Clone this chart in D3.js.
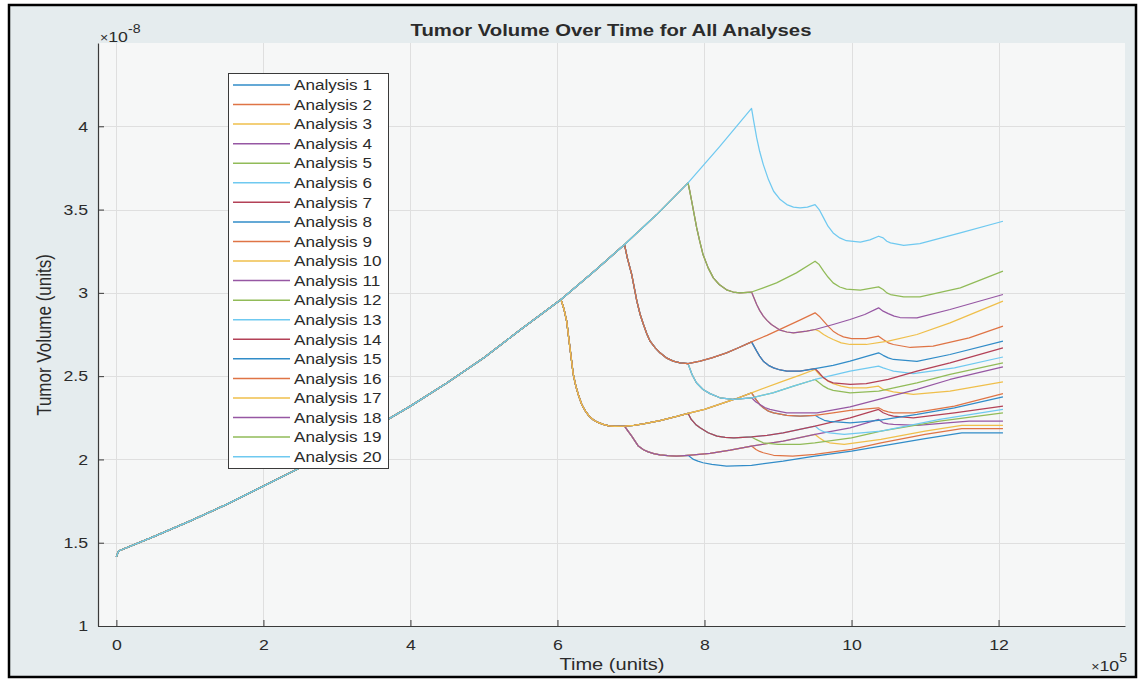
<!DOCTYPE html>
<html>
<head>
<meta charset="utf-8">
<script src="https://cdn.jsdelivr.net/npm/d3@7"></script>
<style>
  html, body { margin: 0; padding: 0; background: #ffffff; }
  svg { display: block; }
  text { font-family: "Liberation Sans", Arial, Helvetica, sans-serif; fill: #2b2b2b; }
</style>
</head>
<body>
<svg id="chart" width="1143" height="682"></svg>
<script>
// Time is in units of 1e5 (seconds), tumour volume in units of 1e-8.
const doseTimes = [6.048, 6.912, 7.776, 8.64, 9.504, 10.368];

// Untreated growth, shared by every analysis until its first dose
const growth = [[0,1.415],[0.03,1.45],[0.5,1.535],[1,1.63],[1.5,1.73],[2,1.84],[2.5,1.95],
  [3,2.07],[3.5,2.19],[4,2.32],[4.5,2.46],[5,2.61],[5.5,2.78],[6.048,2.96],[6.5,3.13],
  [6.912,3.29],[7.35,3.47],[7.776,3.66],[8.2,3.875],[8.64,4.107]];

// Response after a first dose (runs until the fifth dose time)
const after1 = [[6.09,2.90],[6.125,2.83],[6.17,2.67],[6.215,2.51],[6.25,2.44],[6.283,2.39],
  [6.33,2.33],[6.374,2.295],[6.43,2.26],[6.487,2.238],[6.55,2.222],[6.623,2.21],[6.7,2.202],
  [6.782,2.198],[6.912,2.20],[7.04,2.205],[7.167,2.213],[7.395,2.233],[7.622,2.258],
  [7.776,2.277],[8.0,2.30],[8.2,2.33],[8.42,2.363],[8.64,2.40],[9.07,2.47],[9.29,2.505],[9.504,2.54]];
const after2 = [[6.95,3.21],[7.01,3.11],[7.045,3.03],[7.08,2.95],[7.125,2.87],[7.17,2.81],
  [7.215,2.755],[7.26,2.71],[7.33,2.67],[7.395,2.64],[7.48,2.61],[7.575,2.59],[7.67,2.58],
  [7.776,2.575],[7.94,2.59],[8.1,2.61],[8.3,2.64],[8.47,2.672],[8.64,2.706],[8.85,2.745],
  [9.07,2.79],[9.29,2.835],[9.504,2.88]];
const after3 = [[7.8,3.61],[7.826,3.55],[7.86,3.47],[7.894,3.39],[7.935,3.31],[7.98,3.23],
  [8.05,3.15],[8.12,3.09],[8.2,3.05],[8.30,3.018],[8.39,3.005],[8.48,3.0],[8.64,3.005],
  [8.8,3.03],[8.98,3.06],[9.25,3.12],[9.504,3.19]];
const after4 = [[8.67,4.03],[8.71,3.93],[8.75,3.85],[8.80,3.77],[8.87,3.68],[8.94,3.61],
  [9.03,3.56],[9.12,3.53],[9.21,3.515],[9.30,3.51],[9.40,3.515],[9.504,3.53]];

// Response after a second dose (runs until the sixth dose time)
const after1_2 = [[6.96,2.17],[7.01,2.14],[7.055,2.11],[7.10,2.08],[7.17,2.058],[7.235,2.045],
  [7.31,2.035],[7.395,2.028],[7.5,2.023],[7.62,2.02],[7.776,2.025],[8.075,2.037],[8.35,2.056],
  [8.64,2.08],[9.07,2.11],[9.504,2.15],[9.98,2.19],[10.368,2.24]];
const after1_3 = [[7.82,2.24],[7.88,2.21],[7.94,2.19],[8.05,2.16],[8.17,2.14],[8.28,2.133],
  [8.4,2.13],[8.64,2.135],[8.85,2.145],[9.07,2.16],[9.504,2.20],[9.98,2.25],[10.368,2.30]];
const after1_4 = [[8.7,2.36],[8.75,2.33],[8.8,2.31],[8.87,2.29],[8.94,2.28],[9.12,2.265],
  [9.3,2.26],[9.504,2.265],[9.75,2.28],[9.98,2.295],[10.368,2.31]];
const after1_5 = [[9.56,2.51],[9.62,2.49],[9.68,2.47],[9.75,2.455],[9.86,2.44],[9.98,2.43],
  [10.2,2.43],[10.368,2.44]];
const after2_3 = [[7.83,2.51],[7.89,2.46],[7.98,2.42],[8.075,2.395],[8.21,2.37],[8.39,2.36],
  [8.64,2.37],[8.93,2.40],[9.21,2.44],[9.504,2.48],[9.98,2.53],[10.368,2.56]];
const after2_4 = [[8.71,2.65],[8.75,2.62],[8.80,2.59],[8.87,2.565],[8.94,2.55],[9.03,2.537],
  [9.12,2.53],[9.3,2.53],[9.504,2.545],[9.75,2.565],[9.98,2.59],[10.368,2.64]];
const after2_5 = [[9.56,2.86],[9.62,2.83],[9.68,2.80],[9.75,2.77],[9.82,2.75],[9.89,2.736],
  [10.0,2.725],[10.2,2.725],[10.368,2.74]];
const after3_4 = [[8.71,2.93],[8.75,2.895],[8.80,2.86],[8.85,2.835],[8.91,2.81],[9.03,2.776],
  [9.12,2.765],[9.21,2.76],[9.39,2.77],[9.504,2.78],[9.75,2.81],[9.98,2.84],[10.18,2.87],[10.368,2.91]];
const after3_5 = [[9.56,3.17],[9.62,3.13],[9.68,3.095],[9.75,3.06],[9.84,3.035],[9.93,3.022],
  [10.12,3.016],[10.368,3.036]];
const after4_5 = [[9.56,3.50],[9.62,3.45],[9.68,3.40],[9.75,3.36],[9.84,3.33],[9.93,3.313],
  [10.12,3.305],[10.25,3.318],[10.368,3.34]];

// Response after the third dose (runs to the end of the simulation)
const after1_2_3 = [[7.82,2.01],[7.85,2.00],[7.91,1.99],[7.98,1.98],[8.1,1.97],[8.3,1.96],
  [8.64,1.965],[9.07,1.99],[9.5,2.02],[10.0,2.05],[10.4,2.08],[11.0,2.125],[11.5,2.16],[12.06,2.16]];
const after1_2_4 = [[8.7,2.06],[8.75,2.048],[8.8,2.04],[8.94,2.025],[9.2,2.02],[9.5,2.03],
  [10.0,2.06],[10.4,2.10],[11.0,2.15],[11.5,2.185],[12.06,2.185]];
const after1_2_5 = [[9.56,2.13],[9.63,2.11],[9.7,2.10],[9.9,2.09],[10.4,2.12],[11.0,2.17],
  [11.5,2.205],[12.06,2.205]];
const after1_2_6 = [[10.43,2.22],[10.5,2.213],[10.57,2.21],[10.9,2.205],[11.3,2.22],[11.6,2.23],[12.06,2.23]];
const after1_3_4 = [[8.7,2.12],[8.75,2.11],[8.8,2.10],[9.0,2.09],[9.3,2.09],[9.5,2.10],
  [10.0,2.13],[10.4,2.17],[11.2,2.23],[12.06,2.28]];
const after1_3_5 = [[9.56,2.18],[9.63,2.165],[9.7,2.16],[9.9,2.15],[10.4,2.17],[11.2,2.24],[12.06,2.30]];
const after1_3_6 = [[10.43,2.28],[10.5,2.268],[10.57,2.26],[10.84,2.25],[11.4,2.28],[12.06,2.32]];
const after1_4_5 = [[9.56,2.25],[9.63,2.235],[9.7,2.228],[9.98,2.22],[10.37,2.235],[10.89,2.27],
  [11.4,2.31],[12.06,2.375]];
const after1_4_6 = [[10.43,2.295],[10.5,2.285],[10.57,2.28],[10.84,2.28],[11.4,2.32],[12.06,2.395]];
const after1_5_6 = [[10.43,2.42],[10.5,2.413],[10.57,2.405],[10.84,2.39],[11.34,2.41],[12.06,2.465]];
const after2_3_4 = [[8.7,2.345],[8.755,2.33],[8.82,2.312],[8.89,2.30],[9.0,2.29],[9.12,2.28],
  [9.53,2.28],[9.98,2.315],[10.37,2.36],[10.89,2.42],[11.34,2.48],[12.06,2.555]];
const after2_3_5 = [[9.56,2.46],[9.62,2.44],[9.68,2.425],[9.75,2.415],[9.98,2.40],[10.37,2.41],
  [10.89,2.46],[11.34,2.51],[12.06,2.58]];
const after2_3_6 = [[10.43,2.55],[10.5,2.54],[10.57,2.53],[10.84,2.515],[11.4,2.55],[12.06,2.615]];
const after2_4_5 = [[9.56,2.52],[9.62,2.49],[9.68,2.472],[9.75,2.46],[9.98,2.45],[10.2,2.455],
  [10.5,2.48],[10.89,2.53],[11.34,2.58],[12.06,2.67]];
const after2_4_6 = [[10.43,2.625],[10.5,2.61],[10.57,2.60],[10.89,2.588],[11.34,2.63],[12.06,2.71]];
const after2_5_6 = [[10.43,2.72],[10.5,2.70],[10.57,2.69],[10.8,2.672],[11.11,2.68],[11.6,2.73],[12.06,2.80]];
const after3_4_5 = [[9.56,2.77],[9.62,2.75],[9.68,2.735],[9.75,2.72],[9.86,2.70],[9.98,2.69],
  [10.2,2.69],[10.5,2.71],[10.89,2.75],[11.34,2.82],[12.06,2.95]];
const after3_4_6 = [[10.43,2.89],[10.5,2.875],[10.58,2.86],[10.66,2.852],[10.89,2.85],[11.34,2.90],[12.06,2.99]];
const after3_5_6 = [[10.43,3.02],[10.48,3.00],[10.53,2.99],[10.71,2.976],[10.93,2.976],[11.48,3.03],[12.06,3.13]];
const after4_5_6 = [[10.43,3.33],[10.48,3.31],[10.53,3.30],[10.71,3.285],[10.93,3.295],[11.48,3.36],[12.06,3.43]];

// Dose schedule of each analysis (1-based indices into doseTimes)
const schedules = [[1,2,3],[1,2,4],[1,2,5],[1,2,6],[1,3,4],[1,3,5],[1,3,6],[1,4,5],[1,4,6],[1,5,6],
  [2,3,4],[2,3,5],[2,3,6],[2,4,5],[2,4,6],[2,5,6],[3,4,5],[3,4,6],[3,5,6],[4,5,6]];
const seriesNames = schedules.map((s, i) => "Analysis " + (i + 1));

const xTicks = [0, 2, 4, 6, 8, 10, 12];
const yTicks = [1, 1.5, 2, 2.5, 3, 3.5, 4];
// Seven-colour line order, softened slightly
const lineColors = ["#318cc8","#df7445","#efbf4b","#9657a3","#91bb58","#6fc9f0","#b34157"];

// Segments keyed by the doses already given
const segmentTable = {
  "1": after1, "2": after2, "3": after3, "4": after4,
  "1-2": after1_2, "1-3": after1_3, "1-4": after1_4, "1-5": after1_5,
  "2-3": after2_3, "2-4": after2_4, "2-5": after2_5, "3-4": after3_4, "3-5": after3_5, "4-5": after4_5,
  "1-2-3": after1_2_3, "1-2-4": after1_2_4, "1-2-5": after1_2_5, "1-2-6": after1_2_6,
  "1-3-4": after1_3_4, "1-3-5": after1_3_5, "1-3-6": after1_3_6, "1-4-5": after1_4_5,
  "1-4-6": after1_4_6, "1-5-6": after1_5_6, "2-3-4": after2_3_4, "2-3-5": after2_3_5,
  "2-3-6": after2_3_6, "2-4-5": after2_4_5, "2-4-6": after2_4_6, "2-5-6": after2_5_6,
  "3-4-5": after3_4_5, "3-4-6": after3_4_6, "3-5-6": after3_5_6, "4-5-6": after4_5_6
};

// Chain the shared history with the branches of one schedule
function trajectory(sched) {
  const eps = 1e-9;
  const [a, b, c] = sched;
  const upTo = (arr, t) => arr.filter(p => p[0] <= t + eps);
  return [
    ...upTo(growth, doseTimes[a - 1]),
    ...upTo(segmentTable[String(a)], doseTimes[b - 1]),
    ...upTo(segmentTable[a + "-" + b], doseTimes[c - 1]),
    ...segmentTable[a + "-" + b + "-" + c]
  ];
}

const W = 1143, H = 682;
const SX = 1.18;  // horizontal stretch of the lettering
const plot = { left: 98, right: 1125, top: 43, bottom: 626 };

const svg = d3.select("#chart");

// Figure background and frame
svg.append("rect").attr("x", 0).attr("y", 0).attr("width", W).attr("height", H).attr("fill", "#ffffff");
svg.append("rect").attr("x", 9).attr("y", 5).attr("width", 1127).attr("height", 672)
  .attr("fill", "#e5ecee").attr("stroke", "#000").attr("stroke-width", 2.5);

const x = d3.scaleLinear().domain([-0.25, 13.72]).range([plot.left, plot.right]);
const y = d3.scaleLinear().domain([1, 4.5]).range([plot.bottom, plot.top]);

// Plot area
svg.append("rect").attr("x", plot.left).attr("y", plot.top)
  .attr("width", plot.right - plot.left).attr("height", plot.bottom - plot.top)
  .attr("fill", "#f6f7f7");

// Grid
const grid = svg.append("g").attr("stroke", "#dfdfdf").attr("stroke-width", 1);
grid.selectAll("line.gx").data(xTicks).join("line")
  .attr("x1", d => Math.round(x(d)) + 0.5).attr("x2", d => Math.round(x(d)) + 0.5)
  .attr("y1", plot.top).attr("y2", plot.bottom);
grid.selectAll("line.gy").data(yTicks.slice(1)).join("line")
  .attr("x1", plot.left).attr("x2", plot.right)
  .attr("y1", d => Math.round(y(d)) + 0.5).attr("y2", d => Math.round(y(d)) + 0.5);

// Series, drawn in order so that later analyses sit on top
const line = d3.line().x(d => x(d[0])).y(d => y(d[1]));
const series = schedules.map((s, i) => ({ name: seriesNames[i], color: lineColors[i % 7], pts: trajectory(s) }));
svg.append("g").attr("fill", "none").attr("stroke-width", 1.25).attr("stroke-linejoin", "round")
  .selectAll("path").data(series).join("path")
  .attr("stroke", d => d.color).attr("d", d => line(d.pts));

// Axes with inward ticks
const fmt = d => String(d);
const gx = svg.append("g").attr("transform", `translate(0,${plot.bottom})`)
  .call(d3.axisBottom(x).tickValues(xTicks).tickFormat(fmt).tickSizeInner(-6).tickSizeOuter(0).tickPadding(13));
const gy = svg.append("g").attr("transform", `translate(${plot.left},0)`)
  .call(d3.axisLeft(y).tickValues(yTicks).tickFormat(fmt).tickSizeInner(-6).tickSizeOuter(0).tickPadding(10));
[gx, gy].forEach(g => {
  g.select(".domain").attr("stroke", "#3a3a3a").attr("stroke-width", 1.2);
  g.selectAll(".tick line").attr("stroke", "#3a3a3a");
  g.selectAll(".tick text").attr("font-size", 15).attr("font-family", "Liberation Sans, Arial, sans-serif").attr("fill", "#333");
});
gx.selectAll(".tick text").attr("transform", `scale(${SX},1)`).attr("x", 0);
gy.selectAll(".tick text").attr("x", -10 / SX).attr("transform", `scale(${SX},1)`);

function stretchedText(px, py, str, size, opts = {}) {
  const g = svg.append("g").attr("transform", `translate(${px},${py}) scale(${SX},1)` + (opts.rotate ? ` rotate(${opts.rotate})` : ""));
  const t = g.append("text").attr("font-size", size).attr("text-anchor", opts.anchor || "start")
    .attr("font-weight", opts.bold ? "bold" : "normal").attr("fill", opts.fill || "#2b2b2b");
  return t.text(str);
}

// Title and axis labels
stretchedText(611, 36, "Tumor Volume Over Time for All Analyses", 17.2, { anchor: "middle", bold: true, fill: "#1a1a1a" });
stretchedText(612, 670, "Time (units)", 17, { anchor: "middle" });
stretchedText(51, 335, "Tumor Volume (units)", 17, { anchor: "middle", rotate: -90 });

// Exponent labels
const e1 = stretchedText(100, 42, "", 15);
e1.append("tspan").attr("font-size", 12).text("\u00d7");
e1.append("tspan").text("10");
e1.append("tspan").attr("font-size", 12).attr("dy", -9).text("-8");
const e2 = stretchedText(1127, 671, "", 15, { anchor: "end" });
e2.append("tspan").attr("font-size", 12).text("\u00d7");
e2.append("tspan").text("10");
e2.append("tspan").attr("font-size", 12).attr("dy", -9).text("5");

// Legend
const lg = { left: 228, top: 73, width: 160, height: 395, row0: 85, step: 19.56 };
svg.append("rect").attr("x", lg.left + 0.5).attr("y", lg.top + 0.5).attr("width", lg.width).attr("height", lg.height)
  .attr("fill", "#ffffff").attr("stroke", "#3a3a3a").attr("stroke-width", 1);
const items = svg.append("g").selectAll("g").data(series).join("g")
  .attr("transform", (d, i) => `translate(0,${lg.row0 + i * lg.step})`);
items.append("line").attr("x1", 233).attr("x2", 290).attr("y1", 0).attr("y2", 0)
  .attr("stroke", d => d.color).attr("stroke-width", 1.5);
items.append("g").attr("transform", `translate(294,0) scale(${SX},1)`)
  .append("text").attr("font-size", 14.5).attr("dy", "0.36em").attr("fill", "#2b2b2b").text(d => d.name);
</script>
</body>
</html>
